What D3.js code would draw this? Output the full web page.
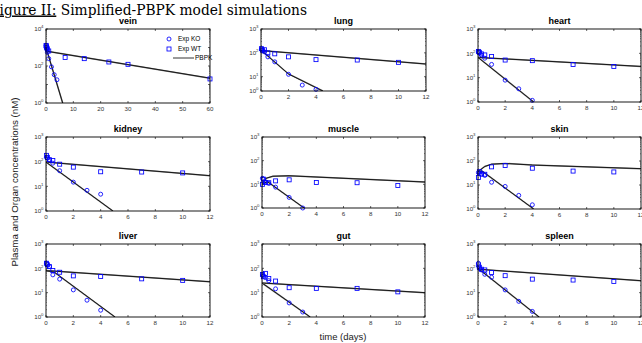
<!DOCTYPE html>
<html>
<head>
<meta charset="utf-8">
<script src="https://cdn.jsdelivr.net/npm/d3@7"></script>
<style>
  body { margin: 0; background: #fff; }
  svg { display: block; }
  text { font-family: "Liberation Sans", Arial, sans-serif; }
</style>
</head>
<body>
<svg id="chart" width="642" height="343"></svg>
<script>
// sampling times (days)
const koTimes = [0.03, 0.1, 0.25, 0.5, 1, 2, 3, 4];
const wtTimes = [0.03, 0.1, 0.25, 0.5, 1, 2, 4, 7, 10];
const veinWtTimes = [0.03, 0.1, 0.25, 0.5, 1, 7, 14, 23, 30, 60];

// measured concentrations (nM)
const veinKO = [1250, 1000, 800, 550, 250, 90, 34, 18];
const veinWT = [1300, 1200, 1000, 850, 650, 290, 250, 165, 123, 20];
const lungKO = [145, 125, 110, 68, 42, 12.6, 2.6, 1.3];
const lungWT = [150, 130, 135, 100, 91, 68, 52, 50, 40];
const heartKO = [115, 105, 86, 63, 35, 7.9, 3.5, 1.17];
const heartWT = [120, 110, 95, 86, 74, 53, 50, 35, 29];
const kidneyKO = [150, 140, 120, 87, 43, 14.8, 6.9, 4.8];
const kidneyWT = [180, 150, 120, 112, 79, 60, 39, 38, 35];
const muscleKO = [18, 16.6, 12.9, 11, 7.6, 2.8, 1.0, null];
const muscleWT = [10, 16.6, 12, 11.7, 14, 15.5, 12, 11.7, 8.9];
const skinKO = [33, 30, 28, 25, 13, 8.7, 3.7, 1.5];
const skinWT = [20.5, 36, 29, 28, 57, 65, 50, 38, 35];
const liverKO = [162, 140, 118, 54, 36, 13, 4.9, 1.9];
const liverWT = [162, 140, 118, 81, 69, 49, 46, 37, 32];
const gutKO = [53, 48, 42, 31, 14.4, 3.8, 1.6, null];
const gutWT = [56, 45, 62, 38, 30, 16, 15, 15, 10.8];
const spleenKO = [162, 100, 86, 57, 43, 13, 4.4, 1.7];
const spleenWT = [138, 111, 92, 86, 67, 50, 36, 33, 29];

// PBPK simulations, [time, concentration]
const veinSimWT = [[0, 1000], [0.5, 620], [60, 22]];
const veinSimKO = [[0, 1000], [0.5, 560], [6.1, 1]];
const lungSimWT = [[0, 125], [12, 34]];
const lungSimKO = [[0, 130], [2, 13], [4.5, 1]];
const heartSimWT = [[0, 68], [12, 29]];
const heartSimKO = [[0, 68], [4.1, 1]];
const kidneySimWT = [[0, 96], [12, 27]];
const kidneySimKO = [[0, 96], [4.9, 1]];
const muscleSimWT = [[0, 10], [0.3, 18], [0.8, 22], [2, 23], [12, 12.5]];
const muscleSimKO = [[0, 10], [0.4, 13], [3.1, 1]];
const skinSimWT = [[0, 36], [0.5, 59], [1, 74], [2, 79], [4, 68], [12, 48]];
const skinSimKO = [[0, 36], [0.3, 38], [4.1, 1]];
const liverSimWT = [[0, 81], [12, 28]];
const liverSimKO = [[0, 80], [0.6, 70], [5.05, 1]];
const gutSimWT = [[0, 25], [12, 10]];
const gutSimKO = [[0, 25], [3.55, 1]];
const spleenSimWT = [[0, 92], [12, 31]];
const spleenSimKO = [[0, 100], [4.5, 1]];

const xTicksShort = [0, 2, 4, 6, 8, 10, 12];
const xTicksVein = [0, 10, 20, 30, 40, 50, 60];
const legendLabels = ['Exp KO', 'Exp WT', 'PBPK'];

const panels = [
  { name: 'vein', box: [46, 210, 29, 103], xmax: 60, ymax: 1e4, ko: veinKO, wt: veinWT, wtT: veinWtTimes, sWT: veinSimWT, sKO: veinSimKO },
  { name: 'lung', box: [261, 426, 29, 91], xmax: 12, ymax: 1e3, ko: lungKO, wt: lungWT, wtT: wtTimes, sWT: lungSimWT, sKO: lungSimKO, y10: 76.7 },
  { name: 'heart', box: [478, 641, 29, 102], xmax: 12, ymax: 1e3, ko: heartKO, wt: heartWT, wtT: wtTimes, sWT: heartSimWT, sKO: heartSimKO },
  { name: 'kidney', box: [46, 210, 137, 211], xmax: 12, ymax: 1e3, ko: kidneyKO, wt: kidneyWT, wtT: wtTimes, sWT: kidneySimWT, sKO: kidneySimKO },
  { name: 'muscle', box: [262, 425, 137, 208], xmax: 12, ymax: 1e3, ko: muscleKO, wt: muscleWT, wtT: wtTimes, sWT: muscleSimWT, sKO: muscleSimKO },
  { name: 'skin', box: [478, 641, 137, 209], xmax: 12, ymax: 1e3, ko: skinKO, wt: skinWT, wtT: wtTimes, sWT: skinSimWT, sKO: skinSimKO },
  { name: 'liver', box: [46, 210, 244, 317], xmax: 12, ymax: 1e3, ko: liverKO, wt: liverWT, wtT: wtTimes, sWT: liverSimWT, sKO: liverSimKO },
  { name: 'gut', box: [262, 425, 244, 317], xmax: 12, ymax: 1e3, ko: gutKO, wt: gutWT, wtT: wtTimes, sWT: gutSimWT, sKO: gutSimKO },
  { name: 'spleen', box: [478, 641, 244, 317], xmax: 12, ymax: 1e3, ko: spleenKO, wt: spleenWT, wtT: wtTimes, sWT: spleenSimWT, sKO: spleenSimKO }
];

const blue = '#0000ff';
const svg = d3.select('#chart');

// figure title, first letter falls off the left edge
const title = svg.append('text')
  .attr('y', 14.5)
  .style('font-family', '"DejaVu Serif", serif')
  .style('font-size', '14.5px')
  .attr('fill', '#000');
title.append('tspan').text('Figure II:').style('text-decoration', 'underline');
title.append('tspan').text(' Simplified-PBPK model simulations');
const fW = title.node().getSubStringLength(0, 1);
title.attr('x', -fW).attr('textLength', 307 + fW).attr('lengthAdjust', 'spacingAndGlyphs');

function logLabel(g, exp, x, y) {
  const t = g.append('text').attr('x', x).attr('y', y)
    .attr('text-anchor', 'end').attr('fill', '#333')
    .style('font-size', '6.2px');
  t.append('tspan').text('10');
  t.append('tspan').text(exp).attr('dy', -2.8).style('font-size', '4.3px');
}

panels.forEach((p, i) => {
  const [l, r, t, b] = p.box;
  const x = d3.scaleLinear().domain([0, p.xmax]).range([l, r]);
  const y = p.y10
    ? d3.scaleLog().domain([1, 10, p.ymax]).range([b, p.y10, t])
    : d3.scaleLog().domain([1, p.ymax]).range([b, t]);

  const g = svg.append('g');
  const clipId = 'clip' + i;
  g.append('clipPath').attr('id', clipId)
    .append('rect').attr('x', l).attr('y', t).attr('width', r - l).attr('height', b - t);

  // ticks inside the box on all four sides
  const xt = p.xmax === 60 ? xTicksVein : xTicksShort;
  const ticks = g.append('g').attr('stroke', '#000').attr('stroke-width', 0.6);
  xt.forEach(v => {
    ticks.append('line').attr('x1', x(v)).attr('x2', x(v)).attr('y1', b).attr('y2', b - 2);
    ticks.append('line').attr('x1', x(v)).attr('x2', x(v)).attr('y1', t).attr('y2', t + 2);
    g.append('text').attr('x', x(v)).attr('y', b + 8)
      .attr('text-anchor', 'middle').attr('fill', '#333')
      .style('font-size', '6.2px').text(v);
  });
  const decades = d3.range(0, Math.log10(p.ymax) + 1);
  decades.forEach(k => {
    const v = Math.pow(10, k);
    ticks.append('line').attr('x1', l).attr('x2', l + 2).attr('y1', y(v)).attr('y2', y(v));
    ticks.append('line').attr('x1', r).attr('x2', r - 2).attr('y1', y(v)).attr('y2', y(v));
    if (p.ymax < 1e4 || k % 2 === 0) logLabel(g, k, l - 2.5, y(v) + 2.2);
    if (k < Math.log10(p.ymax)) {
      d3.range(2, 10).forEach(m => {
        const mv = m * v;
        ticks.append('line').attr('x1', l).attr('x2', l + 1).attr('y1', y(mv)).attr('y2', y(mv)).attr('stroke-width', 0.4);
        ticks.append('line').attr('x1', r).attr('x2', r - 1).attr('y1', y(mv)).attr('y2', y(mv)).attr('stroke-width', 0.4);
      });
    }
  });

  // PBPK lines
  const line = d3.line().x(d => x(d[0])).y(d => y(Math.max(d[1], 1)));
  const lines = g.append('g').attr('clip-path', `url(#${clipId})`);
  [p.sWT, p.sKO].forEach(s => {
    lines.append('path').attr('d', line(s)).attr('fill', 'none')
      .attr('stroke', '#777').attr('stroke-width', 1.5);
    lines.append('path').attr('d', line(s)).attr('fill', 'none')
      .attr('stroke', '#000').attr('stroke-width', 0.8);
  });

  // experimental points
  const ko = koTimes.map((tt, j) => [tt, p.ko[j]]).filter(d => d[1] != null);
  const wt = p.wtT.map((tt, j) => [tt, p.wt[j]]).filter(d => d[1] != null);
  g.append('g').selectAll('circle').data(ko).join('circle')
    .attr('cx', d => x(d[0])).attr('cy', d => y(d[1])).attr('r', 2)
    .attr('fill', 'none').attr('stroke', blue).attr('stroke-width', 0.85);
  g.append('g').selectAll('rect').data(wt).join('rect')
    .attr('x', d => x(d[0]) - 2).attr('y', d => y(d[1]) - 2)
    .attr('width', 4).attr('height', 4)
    .attr('fill', 'none').attr('stroke', blue).attr('stroke-width', 0.85);

  // box
  g.append('rect').attr('x', l).attr('y', t).attr('width', r - l).attr('height', b - t)
    .attr('fill', 'none').attr('stroke', '#000').attr('stroke-width', 0.9);

  g.append('text').attr('x', (l + r) / 2).attr('y', t - 5)
    .attr('text-anchor', 'middle').style('font-size', '9px').style('font-weight', 'bold')
    .text(p.name);
});

// legend in the vein panel
const leg = svg.append('g').style('font-size', '6.5px');
leg.append('circle').attr('cx', 169).attr('cy', 39).attr('r', 2)
  .attr('fill', 'none').attr('stroke', blue).attr('stroke-width', 0.85);
leg.append('rect').attr('x', 167).attr('y', 47).attr('width', 4).attr('height', 4)
  .attr('fill', 'none').attr('stroke', blue).attr('stroke-width', 0.85);
leg.append('line').attr('x1', 173).attr('x2', 194).attr('y1', 58).attr('y2', 58)
  .attr('stroke', '#000').attr('stroke-width', 0.8);
leg.append('text').attr('x', 178).attr('y', 41.3).text(legendLabels[0]);
leg.append('text').attr('x', 178).attr('y', 51.3).text(legendLabels[1]);
leg.append('text').attr('x', 195).attr('y', 60.3).text(legendLabels[2]);

// axis labels
svg.append('text').attr('transform', 'translate(18,182) rotate(-90)')
  .attr('text-anchor', 'middle').style('font-size', '9.5px').attr('fill', '#222')
  .attr('textLength', 169).attr('lengthAdjust', 'spacingAndGlyphs')
  .text('Plasma and Organ concentrations (nM)');
svg.append('text').attr('x', 343).attr('y', 340)
  .attr('text-anchor', 'middle').style('font-size', '9.5px').attr('fill', '#222')
  .text('time (days)');
</script>
</body>
</html>
